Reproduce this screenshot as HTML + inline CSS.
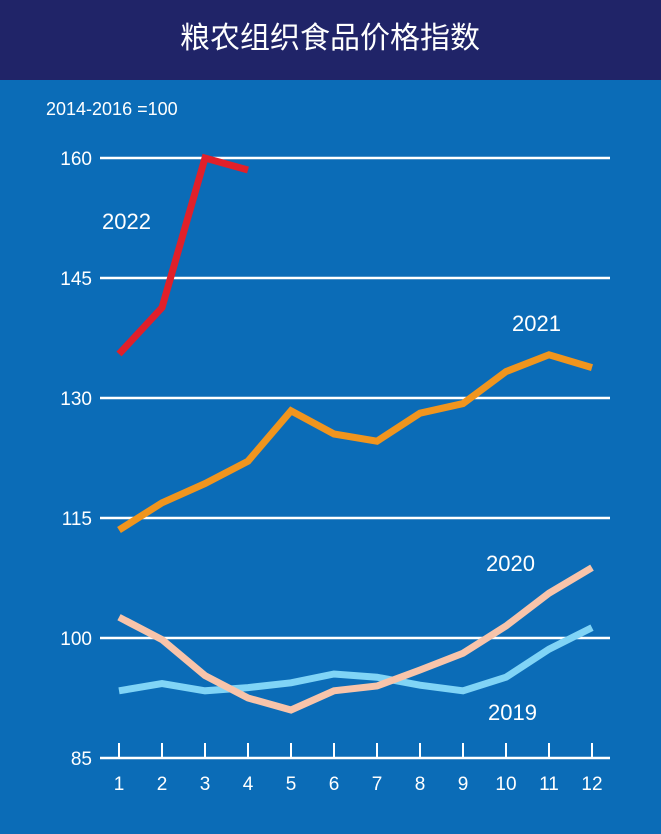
<!DOCTYPE html>
<html><head><meta charset="utf-8"><style>
body{margin:0;width:661px;height:829px;overflow:hidden;background:#0b6cb7;font-family:"Liberation Sans","Noto Sans CJK SC",sans-serif}
</style></head><body>
<svg width="661" height="829" xmlns="http://www.w3.org/2000/svg">
<rect x="0" y="0" width="661" height="829" fill="#0b6cb7"/>
<rect x="0" y="0" width="661" height="80" fill="#202468"/>
<text x="330" y="48" text-anchor="middle" fill="#fff" font-size="30" font-family="Noto Sans CJK SC, sans-serif">粮农组织食品价格指数</text>
<text x="46" y="115" fill="#fff" font-size="18">2014-2016 =100</text>
<g id="grid"></g><g id="axis"></g><g id="series"></g>
</svg>
<script>
const months=[1,2,3,4,5,6,7,8,9,10,11,12];
const yTicks=[85,100,115,130,145,160];
const s2022=[135.5,141.3,160,158.5];
const s2021=[113.5,116.9,119.3,122.1,128.4,125.5,124.6,128.1,129.3,133.3,135.4,133.8];
const s2020=[102.6,99.8,95.3,92.5,91,93.4,94,96,98.1,101.5,105.6,108.8];
const s2019=[93.4,94.3,93.4,93.8,94.4,95.5,95.1,94.1,93.4,95.1,98.6,101.3];
const NS='http://www.w3.org/2000/svg';
const X=m=>119+(m-1)*43;
const Y=v=>158+(160-v)*8;
function mk(tag,attrs,parent){const e=document.createElementNS(NS,tag);for(const k in attrs)e.setAttribute(k,attrs[k]);document.getElementById(parent).appendChild(e);return e;}
yTicks.forEach(t=>{
  if(t>85){const l=mk('line',{x1:100,x2:610,y1:Y(t),y2:Y(t),stroke:'#fff','stroke-width':2.5},'grid');
  
  }
  const tx=mk('text',{x:92,y:Y(t)+7,'text-anchor':'end',fill:'#fff','font-size':19},'grid');tx.textContent=t;
  
  
});
const ax=mk('line',{x1:100,x2:610,y1:Y(85),y2:Y(85),stroke:'#fff','stroke-width':2.5},'axis');


months.forEach(m=>{
  const t=mk('line',{x1:X(m),x2:X(m),y1:Y(85)-15,y2:Y(85),stroke:'#fff','stroke-width':2},'axis');
  
  
  const l=mk('text',{x:X(m),y:790,'text-anchor':'middle',fill:'#fff','font-size':19},'axis');l.textContent=m;
  
  
});
function series(data,color,name,lab,lx,ly){
  const p=mk('polyline',{points:data.map((v,i)=>X(months[i])+','+Y(v)).join(' '),fill:'none',stroke:color,'stroke-width':7,'stroke-linejoin':'miter'},'series');
  
  
  const t=mk('text',{x:lx,y:ly,fill:'#fff','font-size':22},'series');t.textContent=lab;
  
  
}
series(s2019,'#80d4f6','line-2019','2019',488,720);
series(s2020,'#f8c4aa','line-2020','2020',486,571);
series(s2021,'#f0951e','line-2021','2021',512,331);
series(s2022,'#e0202a','line-2022','2022',102,229);
</script>
</body></html>
